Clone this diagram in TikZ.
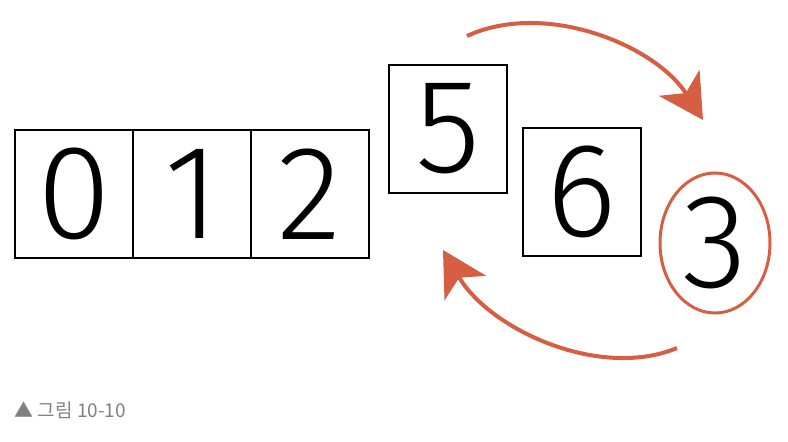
\documentclass[tikz,border=0pt]{standalone}
\usepackage{fontspec}
\usetikzlibrary{arrows.meta,positioning,shapes.geometric}
\setmainfont{Liberation Sans}
\newfontfamily\kor{Noto Sans CJK KR}
\newfontfamily\digitfont{Fira Sans Light}
\definecolor{arcred}{RGB}{214,94,66}
\definecolor{capgray}{RGB}{128,128,128}

\begin{document}
\begin{tikzpicture}[x=1pt,y=-1pt,
  cell/.style={draw,line width=2.5pt,outer sep=0pt,inner sep=0pt,minimum width=118pt,minimum height=128pt,font=\digitfont\fontsize{134}{134}\selectfont},
  pick/.style={draw=arcred,ellipse,line width=3pt,inner sep=0pt,minimum width=110pt,minimum height=140pt,font=\digitfont\fontsize{134}{134}\selectfont},
  swap/.style={arcred,line width=4pt,-{Stealth[length=44pt,width=48pt,inset=12pt]}}]
\useasboundingbox (0,0) rectangle (788,442);
% sorted part
\node[cell] (c0) at (74,194) {0};
\node[cell,right=0pt of c0] (c1) {1};
\node[cell,right=0pt of c1] (c2) {2};
% moved boxes
\node[cell] (c5) at (448,129) {5};
\node[cell] (c6) at (582,192) {6};
\node[pick] (three) at (715,243) {3};
% arrows
\coordinate (topfrom) at (467,36);
\coordinate (topto) at (703,120);
\coordinate (botfrom) at (677,348);
\coordinate (botto) at (443,250);
\draw[swap] (topfrom) .. controls (545,0) and (655,45) .. (topto);
\draw[swap] (botfrom) .. controls (600,380) and (490,330) .. (botto);
\node[right,text=capgray,font=\kor\fontsize{19}{19}\selectfont] (fig) at (11,410) {▲ 그림 10-10};
\end{tikzpicture}
\end{document}
